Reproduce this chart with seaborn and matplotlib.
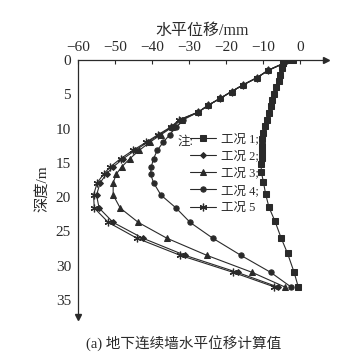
import matplotlib
matplotlib.use("Agg")
import matplotlib.pyplot as plt
import seaborn as sns
import pandas as pd

# ---- data ----
depth1 = [0, 0.5, 1.2, 2.2, 3.1, 4.0, 5.0, 5.8, 6.7, 7.7, 8.7, 9.7, 10.7, 11.6, 12.5,
          13.4, 14.3, 15.2, 16.3, 17.8, 19.6, 21.5, 23.5, 26.0, 28.2, 31.0, 33.1]
case1 = [-2.0, -4.6, -4.8, -5.4, -5.8, -6.4, -7.0, -7.5, -7.9, -8.4, -9.0, -9.5, -10.0, -10.2, -10.3,
         -10.4, -10.4, -10.5, -10.5, -9.9, -9.3, -8.4, -6.8, -5.1, -3.4, -1.6, -0.5]

depth = [0, 0.5, 1.5, 2.6, 3.6, 4.6, 5.6, 6.6, 7.6, 8.7, 9.8, 10.9, 12.0, 13.2, 14.4,
         15.6, 16.6, 17.9, 19.7, 21.6, 23.7, 26.0, 28.5, 31.0, 33.1]
case2 = [-3.5, -4.5, -8.6, -11.7, -15.3, -18.5, -21.6, -24.8, -27.5, -32.4, -34.8, -38.0, -41.2, -44.6, -47.8,
         -50.5, -52.3, -54.0, -55.0, -54.3, -50.5, -42.5, -31.1, -16.9, -6.1]
case3 = [-3.5, -4.5, -8.6, -11.7, -15.3, -18.5, -21.6, -24.8, -27.5, -32.0, -34.5, -37.6, -40.6, -43.5, -46.0,
         -48.2, -49.6, -50.5, -50.5, -48.6, -43.7, -36.0, -25.2, -12.9, -4.2]
case4 = [-3.5, -4.5, -8.6, -11.7, -15.3, -18.5, -21.6, -24.8, -27.5, -31.5, -33.5, -35.2, -37.0, -38.6, -39.6,
         -40.2, -40.4, -39.6, -37.6, -33.5, -29.7, -23.6, -16.0, -7.9, -2.5]
case5 = [-3.5, -4.5, -8.6, -11.7, -15.3, -18.5, -21.6, -24.8, -27.5, -32.6, -35.0, -38.4, -41.6, -45.2, -48.5,
         -51.3, -53.0, -54.8, -55.8, -55.6, -51.8, -44.1, -32.4, -18.0, -7.0]

labels = ["工况 1;", "工况 2;", "工况 3;", "工况 4;", "工况 5"]
xticks = [-60, -50, -40, -30, -20, -10, 0]
yticks = [0, 5, 10, 15, 20, 25, 30, 35]

sns.set_theme(style="white")
plt.rcParams['font.family'] = ['Liberation Serif', 'Noto Sans CJK SC']
plt.rcParams['axes.unicode_minus'] = True

fig = plt.figure(figsize=(3.57, 3.6), dpi=100)
ax = fig.add_axes([78/357, 1 - 317/360, 248/357, 257/360])

col = "#2a2a2a"
styles = [
    dict(marker="s", markersize=3.8),
    dict(marker="D", markersize=3.0),
    dict(marker="^", markersize=4.5),
    dict(marker="o", markersize=3.8),
    dict(marker=(6, 2, 0), markersize=5.5, markeredgewidth=0.9),
]
series = [(case1, depth1), (case2, depth), (case3, depth), (case4, depth), (case5, depth)]
for (vals, dep), lab, st in zip(series, labels, styles):
    df = pd.DataFrame({"x": vals, "y": dep})
    sns.lineplot(data=df, x="x", y="y", sort=False, estimator=None, ax=ax,
                 color=col, linewidth=0.8, label=lab, markeredgecolor=col, **st)

ax.set_xlim(-60, 7)
ax.set_ylim(37.5, 0)
ax.xaxis.tick_top()
ax.xaxis.set_label_position("top")
ax.set_xticks(xticks)
ax.set_xticklabels([("\u2212" + str(-t)) if t < 0 else str(t) for t in xticks])
ax.set_yticks(yticks)
ax.tick_params(axis="both", direction="in", length=3, width=0.8, colors=col, labelsize=11, pad=5)
ax.tick_params(axis="x", pad=4)
for s in ["bottom", "right"]:
    ax.spines[s].set_visible(False)
for s in ["top", "left"]:
    ax.spines[s].set_color(col)
    ax.spines[s].set_linewidth(0.9)
ax.plot(1, 1, ">", color=col, markersize=4, transform=ax.transAxes, clip_on=False)
ax.plot(0, 0, "v", color=col, markersize=4, transform=ax.transAxes, clip_on=False)

ax.set_xlabel("水平位移/mm", fontsize=11.5, labelpad=5, color=col)
ax.set_ylabel("深度/m", fontsize=11, labelpad=5, color=col)

leg = ax.legend(loc="upper left", bbox_to_anchor=(190/357, 1 - 133/360), bbox_transform=fig.transFigure,
                frameon=False, fontsize=9, handlelength=2.1, handletextpad=0.4, labelspacing=0.42,
                borderpad=0, borderaxespad=0)
for t in leg.get_texts():
    t.set_color(col)
fig.text(177/357, 1 - 142/360, "注:", fontsize=9, color=col, va="center", ha="left")

fig.text(184/357, 1 - 343/360, "(a) 地下连续墙水平位移计算值", fontsize=10.5, color=col, ha="center", va="center")

fig.savefig("out.png", dpi=100)
